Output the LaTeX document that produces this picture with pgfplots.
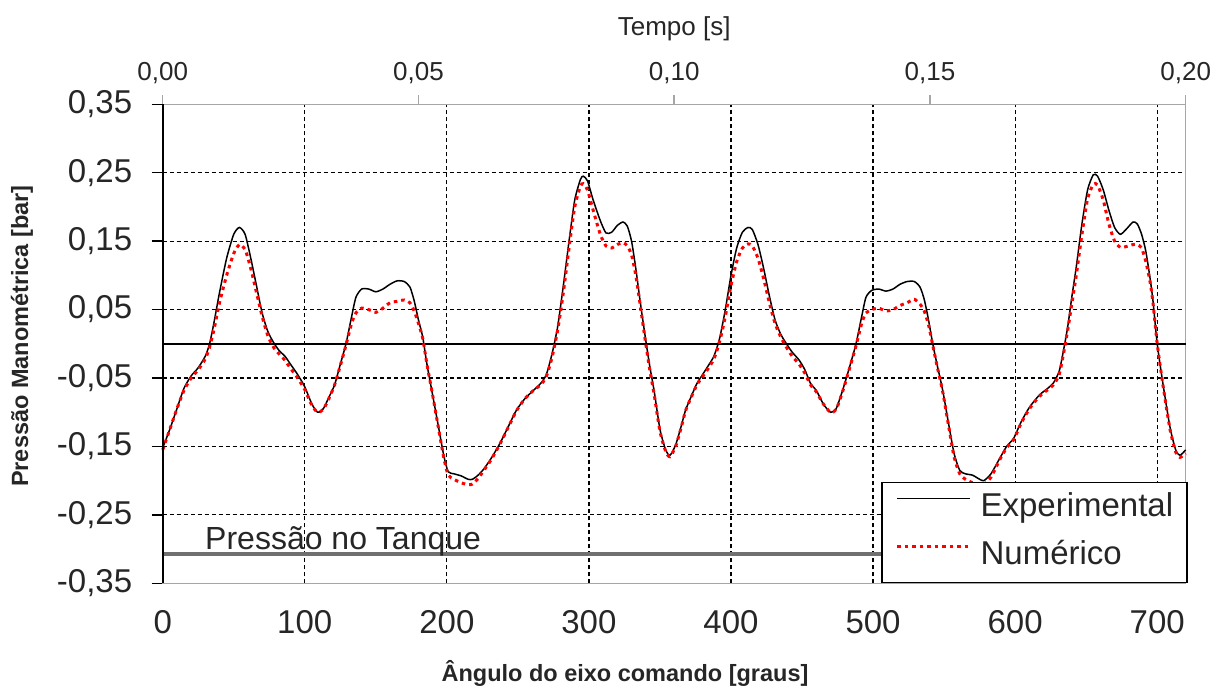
\documentclass[border=0pt]{standalone}
\usepackage{pgfplots}
\pgfplotsset{compat=1.18}
\usepackage{fontspec}
\setmainfont{Liberation Sans}
\definecolor{txt}{HTML}{262626}
\definecolor{axgray}{HTML}{A6A6A6}
\definecolor{tank}{HTML}{707070}
\definecolor{numred}{HTML}{FF0000}

\pgfplotstableread{
x y
0 -0.152
5 -0.125
10 -0.095
15 -0.065
20 -0.047
25 -0.035
30 -0.018
33 0.000
36 0.030
40 0.075
45 0.125
50 0.160
54 0.170
58 0.160
62 0.125
66 0.085
70 0.045
74 0.018
78 0.002
82 -0.010
86 -0.018
90 -0.030
95 -0.045
100 -0.063
105 -0.088
109 -0.100
113 -0.095
117 -0.078
121 -0.060
125 -0.030
129 0.000
133 0.040
136 0.068
140 0.080
145 0.080
150 0.076
155 0.080
160 0.087
165 0.092
170 0.091
174 0.083
177 0.063
180 0.035
183 0.010
186 -0.030
190 -0.075
194 -0.120
198 -0.165
201 -0.187
205 -0.190
210 -0.193
215 -0.198
218 -0.198
222 -0.192
226 -0.183
231 -0.168
237 -0.147
243 -0.122
249 -0.097
255 -0.080
261 -0.068
266 -0.058
270 -0.045
274 -0.015
278 0.025
282 0.085
286 0.150
290 0.210
294 0.240
296 0.245
299 0.238
303 0.210
308 0.180
312 0.162
316 0.163
320 0.173
324 0.178
327 0.172
330 0.150
333 0.110
336 0.063
340 0.005
343 -0.035
346 -0.070
350 -0.125
354 -0.155
357 -0.163
361 -0.148
365 -0.120
368 -0.097
372 -0.077
376 -0.058
380 -0.045
384 -0.032
388 -0.018
392 0.008
396 0.050
400 0.100
404 0.140
408 0.163
412 0.170
415 0.167
419 0.145
423 0.110
427 0.070
431 0.035
435 0.014
439 0.000
443 -0.012
448 -0.024
452 -0.038
456 -0.058
460 -0.068
465 -0.088
470 -0.100
474 -0.095
479 -0.065
484 -0.030
488 0.000
492 0.040
495 0.068
499 0.078
504 0.080
509 0.077
514 0.080
519 0.087
524 0.091
529 0.091
533 0.083
536 0.065
539 0.035
542 0.000
545 -0.030
549 -0.068
553 -0.115
557 -0.160
561 -0.185
565 -0.190
570 -0.192
575 -0.198
578 -0.200
583 -0.190
589 -0.168
594 -0.150
599 -0.138
604 -0.115
610 -0.093
617 -0.075
623 -0.065
627 -0.057
631 -0.040
634 -0.010
637 0.025
640 0.070
643 0.112
647 0.175
651 0.225
655 0.247
658 0.245
662 0.225
666 0.195
670 0.170
674 0.160
678 0.167
683 0.178
686 0.175
689 0.160
692 0.135
695 0.095
697 0.063
700 0.000
704 -0.058
709 -0.122
713 -0.155
716 -0.163
720 -0.155
}\experimental

\pgfplotstableread{
x y
0 -0.155
5 -0.125
10 -0.095
15 -0.068
20 -0.050
25 -0.038
30 -0.022
33 -0.005
36 0.020
40 0.060
45 0.100
50 0.132
54 0.145
58 0.138
62 0.110
66 0.075
70 0.040
74 0.012
78 -0.005
82 -0.015
86 -0.024
90 -0.036
95 -0.050
100 -0.067
105 -0.090
109 -0.100
113 -0.096
117 -0.080
121 -0.060
125 -0.032
129 -0.002
133 0.030
136 0.045
140 0.052
145 0.050
150 0.046
155 0.052
160 0.060
165 0.062
170 0.064
174 0.060
177 0.048
180 0.030
183 0.008
186 -0.030
190 -0.075
194 -0.122
198 -0.168
201 -0.192
205 -0.198
210 -0.203
215 -0.206
218 -0.205
222 -0.197
226 -0.185
231 -0.170
237 -0.148
243 -0.123
249 -0.098
255 -0.080
261 -0.068
266 -0.060
270 -0.048
274 -0.020
278 0.020
282 0.075
286 0.140
290 0.200
294 0.230
296 0.234
299 0.225
303 0.195
308 0.160
312 0.143
316 0.140
320 0.145
324 0.148
327 0.143
330 0.130
333 0.100
336 0.058
340 0.000
343 -0.040
346 -0.075
350 -0.128
354 -0.157
357 -0.165
361 -0.150
365 -0.122
368 -0.098
372 -0.078
376 -0.060
380 -0.048
384 -0.036
388 -0.022
392 0.003
396 0.040
400 0.085
404 0.120
408 0.140
412 0.146
415 0.143
419 0.125
423 0.095
427 0.060
431 0.030
435 0.010
439 -0.005
443 -0.018
448 -0.030
452 -0.043
456 -0.060
460 -0.070
465 -0.088
470 -0.100
474 -0.096
479 -0.067
484 -0.032
488 -0.003
492 0.030
495 0.045
499 0.050
504 0.052
509 0.048
514 0.050
519 0.056
524 0.060
529 0.065
533 0.058
536 0.048
539 0.028
542 -0.002
545 -0.032
549 -0.070
553 -0.118
557 -0.165
561 -0.190
565 -0.198
570 -0.203
575 -0.205
578 -0.206
583 -0.195
589 -0.170
594 -0.152
599 -0.140
604 -0.117
610 -0.095
617 -0.077
623 -0.067
627 -0.060
631 -0.045
634 -0.015
637 0.020
640 0.060
643 0.100
647 0.160
651 0.212
655 0.233
658 0.232
662 0.210
666 0.175
670 0.150
674 0.141
678 0.142
683 0.145
686 0.145
689 0.140
692 0.120
695 0.090
697 0.060
700 0.000
704 -0.060
709 -0.125
713 -0.158
716 -0.166
720 -0.160
}\numerico

\begin{document}
\begin{tikzpicture}
\useasboundingbox (0,0) rectangle (1227pt,693pt);
% top time axis
\begin{axis}[
  at={(162.7pt,109.7pt)}, anchor=south west,
  scale only axis, width=1023pt, height=479pt,
  xmin=0, xmax=0.2, ymin=-0.35, ymax=0.35,
  axis x line*=top, axis y line=none,
  xtick={0,0.05,0.1,0.15,0.2},
  xticklabels={{0,00},{0,05},{0,10},{0,15},{0,20}},
  tick align=outside, major tick length=9pt,
  xtick style={axgray, line width=1.5pt},
  axis line style={axgray, line width=1.5pt},
  xticklabel style={font=\fontsize{26}{30}\selectfont, text=txt, yshift=8pt},
]
\end{axis}
\begin{axis}[
  at={(162.7pt,109.7pt)}, anchor=south west,
  scale only axis, width=1023pt, height=479pt,
  clip=false,
  xmin=0, xmax=720, ymin=-0.35, ymax=0.35,
  xtick={0,100,200,300,400,500,600,700},
  xticklabels={0,100,200,300,400,500,600,700},
  ytick={-0.35,-0.25,-0.15,-0.05,0.05,0.15,0.25,0.35},
  yticklabels={{-0,35},{-0,25},{-0,15},{-0,05},{0,05},{0,15},{0,25},{0,35}},
  ytick pos=left, xtick pos=bottom,
  tick align=outside, major tick length=11pt,
  xtick style={draw=none},
  ytick style={black, line width=1.5pt},
  axis line style={axgray, line width=1.5pt},
  xmajorgrids, ymajorgrids,
  major grid style={black, line width=1.2pt, dash pattern=on 4pt off 3pt},
  xticklabel style={font=\fontsize{33}{36}\selectfont, text=txt, yshift=-13pt},
  yticklabel style={font=\fontsize{33}{36}\selectfont, text=txt, xshift=-16pt},
  legend style={at={(rel axis cs:1,0)}, anchor=south east, xshift=2pt,
    draw=black, line width=1.5pt, fill=white,
    inner xsep=13.7pt, inner ysep=10pt, row sep=16pt, column sep=9pt,
    font=\fontsize{33}{36}\selectfont, text=txt,
    cells={anchor=west},
    nodes={inner sep=0pt, text height=24pt, text depth=8pt}},
  legend image code/.code={\draw[#1] (0pt,10pt) -- (73pt,10pt);},
]
\addplot[black, line width=1.8pt, forget plot] coordinates {(0,0) (720,0)};
\addplot[tank, line width=3.5pt, forget plot] coordinates {(0,-0.307) (720,-0.307)};
\addplot[black, line width=1.5pt, smooth, tension=0.4] table[x=x,y=y] {\experimental};
\addlegendentry{Experimental}
\addplot[numred, line width=3pt, dash pattern=on 3.5pt off 4pt, smooth, tension=0.4] table[x=x,y=y] {\numerico};
\addlegendentry{Numérico}
\draw[black, line width=2pt] (rel axis cs:0,0) -- (rel axis cs:0,1);
\node[anchor=base west, inner sep=0pt, font=\fontsize{32}{36}\selectfont, text=txt] at (axis cs:29.8,-0.3005) {Pressão no Tanque};
\node[font=\fontsize{26}{30}\selectfont, text=txt, yshift=75.3pt] at (rel axis cs:0.5,1) {Tempo [s]};
\node[font=\fontsize{23.5}{28}\selectfont\bfseries, text=txt, xshift=462.3pt, yshift=-89.7pt] at (rel axis cs:0,0) {Ângulo do eixo comando [graus]};
\node[font=\fontsize{23.5}{28}\selectfont\bfseries, text=txt, xshift=-140.7pt, yshift=247.3pt, rotate=90] at (rel axis cs:0,0) {Pressão Manométrica [bar]};
\end{axis}
\end{tikzpicture}
\end{document}
